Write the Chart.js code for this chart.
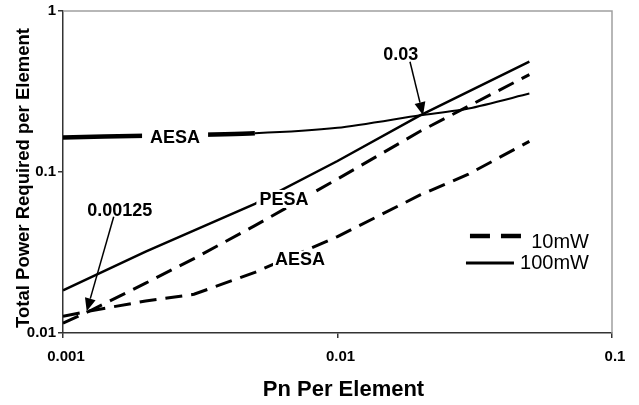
<!DOCTYPE html>
<html><head><meta charset="utf-8">
<script src="https://cdn.jsdelivr.net/npm/chart.js@4.4.1/dist/chart.umd.min.js"></script>
<style>html,body{margin:0;padding:0;background:#fff;overflow:hidden}</style>
</head><body>
<canvas id="c" width="639" height="405"></canvas>
<script>
// ---- data (log-log) ----
const xAesa100 = [0.001, 0.002, 0.005, 0.01, 0.02, 0.03, 0.05];
const yAesa100 = [0.164, 0.168, 0.174, 0.188, 0.225, 0.248, 0.307];
const xPesa100 = [0.001, 0.002, 0.005, 0.01, 0.02, 0.05];
const yPesa100 = [0.0184, 0.032, 0.0634, 0.117, 0.225, 0.484];
const xPesa10 = [0.001, 0.00125, 0.002, 0.003, 0.005, 0.01, 0.02, 0.05];
const yPesa10 = [0.0115, 0.0137, 0.0204, 0.029, 0.0464, 0.0905, 0.179, 0.403];
const xAesa10 = [0.001, 0.00125, 0.002, 0.003, 0.005, 0.01, 0.02, 0.03, 0.05];
const yAesa10 = [0.0127, 0.0137, 0.0158, 0.0174, 0.0238, 0.0397, 0.072, 0.097, 0.155];

const xTicks = [0.001, 0.01, 0.1];
const xTickLabels = ['0.001', '0.01', '0.1'];
const yTicks = [0.01, 0.1, 1];
const yTickLabels = ['0.01', '0.1', '1'];

const xTitle = 'Pn Per Element';
const yTitle = 'Total Power Required per Element';
const legendLabels = ['10mW', '100mW'];

// text notes anchored in data coordinates
const noteTexts = ['AESA', 'PESA', 'AESA', '0.03', '0.00125'];
const noteX = [0.00256, 0.00638, 0.0073, 0.017, 0.00161];
const noteY = [0.164, 0.068, 0.0286, 0.543, 0.0583];
// arrows (from -> tip) in data coordinates
const arrowFromX = [0.01837, 0.00153];
const arrowFromY = [0.484, 0.0527];
const arrowToX = [0.0205, 0.00122];
const arrowToY = [0.225, 0.01367];

const FONT = "'Liberation Sans', Arial, Helvetica, sans-serif";
const pts = (xs, ys) => xs.map((x, i) => ({x: x, y: ys[i]}));

const framePlugin = {
  id: 'frame',
  beforeDatasetsDraw(chart) {
    const {ctx, chartArea: a} = chart;
    ctx.save();
    ctx.strokeStyle = '#a0a0a0';
    ctx.lineWidth = 1.5;
    ctx.beginPath();
    ctx.moveTo(a.left, a.top);
    ctx.lineTo(a.right, a.top);
    ctx.lineTo(a.right, a.bottom);
    ctx.stroke();
    ctx.restore();
  },
  afterDraw(chart) {
    const {ctx, chartArea: a} = chart;
    ctx.save();
    ctx.fillStyle = '#000';
    ctx.textAlign = 'center';
    ctx.textBaseline = 'middle';
    // x axis title
    ctx.font = 'bold 22px ' + FONT;
    ctx.fillText(xTitle, (a.left + a.right) / 2 + 6, a.bottom + 57);
    // y axis title
    ctx.font = 'bold 18.5px ' + FONT;
    ctx.translate(a.left - 39, (a.top + a.bottom) / 2 + 6);
    ctx.rotate(-Math.PI / 2);
    ctx.fillText(yTitle, 0, 0);
    ctx.restore();
  }
};

const notesPlugin = {
  id: 'notes',
  afterDatasetsDraw(chart) {
    const {ctx, chartArea: a} = chart;
    const xs = chart.scales.x, ys = chart.scales.y;
    ctx.save();
    // arrows
    for (let i = 0; i < arrowFromX.length; i++) {
      const x1 = xs.getPixelForValue(arrowFromX[i]), y1 = ys.getPixelForValue(arrowFromY[i]);
      const x2 = xs.getPixelForValue(arrowToX[i]), y2 = ys.getPixelForValue(arrowToY[i]);
      const ang = Math.atan2(y2 - y1, x2 - x1);
      const hl = 13, hw = 5.5;
      const bx = x2 - hl * Math.cos(ang), by = y2 - hl * Math.sin(ang);
      ctx.strokeStyle = '#000';
      ctx.lineWidth = 1.5;
      ctx.beginPath();
      ctx.moveTo(x1, y1);
      ctx.lineTo(bx, by);
      ctx.stroke();
      ctx.fillStyle = '#000';
      ctx.beginPath();
      ctx.moveTo(x2, y2);
      ctx.lineTo(bx + hw * Math.sin(ang), by - hw * Math.cos(ang));
      ctx.lineTo(bx - hw * Math.sin(ang), by + hw * Math.cos(ang));
      ctx.closePath();
      ctx.fill();
    }
    // text notes with white backing
    ctx.font = 'bold 18px ' + FONT;
    ctx.textAlign = 'center';
    ctx.textBaseline = 'middle';
    const padX = [8, 3, 2, 0, 0];
    for (let i = 0; i < noteTexts.length; i++) {
      const px = xs.getPixelForValue(noteX[i]), py = ys.getPixelForValue(noteY[i]);
      const w = ctx.measureText(noteTexts[i]).width;
      if (padX[i] > 0) {
        ctx.fillStyle = '#fff';
        ctx.fillRect(px - w / 2 - padX[i], py - 9, w + 2 * padX[i], 18);
      }
      ctx.fillStyle = '#000';
      ctx.fillText(noteTexts[i], px, py + 1);
    }
    // legend
    const lx = a.left + (a.right - a.left) * 0.734;
    const ly = a.top + (a.bottom - a.top) * 0.699;
    ctx.lineCap = 'butt';
    ctx.strokeStyle = '#000';
    ctx.lineWidth = 4.5;
    ctx.setLineDash([20, 11]);
    ctx.beginPath();
    ctx.moveTo(lx + 4, ly);
    ctx.lineTo(lx + 55, ly);
    ctx.stroke();
    ctx.setLineDash([]);
    ctx.lineWidth = 3;
    ctx.beginPath();
    ctx.moveTo(lx, ly + 27);
    ctx.lineTo(lx + 48, ly + 27);
    ctx.stroke();
    ctx.fillStyle = '#000';
    ctx.font = '20px ' + FONT;
    ctx.textAlign = 'right';
    ctx.fillText(legendLabels[0], lx + 123, ly + 6);
    ctx.fillText(legendLabels[1], lx + 123, ly + 27);
    ctx.restore();
  }
};

const axisCommon = {
  type: 'logarithmic',
  grid: {display: true, drawOnChartArea: false, drawTicks: true, tickLength: 5, color: '#333', lineWidth: 1.5},
  border: {display: true, color: '#333', width: 1.5},
};

new Chart(document.getElementById('c'), {
  type: 'scatter',
  data: {
    datasets: [
      {label: 'AESA 100mW', data: pts(xAesa100, yAesa100), showLine: true, borderColor: '#000', borderWidth: 2,
       pointRadius: 0, tension: 0.25,
       segment: {borderWidth: c => (c.p1.parsed.x <= 0.005 ? 4.5 : 2)}},
      {label: 'PESA 100mW', data: pts(xPesa100, yPesa100), showLine: true, borderColor: '#000', borderWidth: 2.5,
       pointRadius: 0, tension: 0},
      {label: 'PESA 10mW', data: pts(xPesa10, yPesa10), showLine: true, borderColor: '#000', borderWidth: 3,
       borderDash: [17, 9], pointRadius: 0, tension: 0},
      {label: 'AESA 10mW', data: pts(xAesa10, yAesa10), showLine: true, borderColor: '#000', borderWidth: 3,
       borderDash: [17, 9], pointRadius: 0, tension: 0}
    ]
  },
  options: {
    responsive: false,
    animation: false,
    devicePixelRatio: 1,
    layout: {padding: {left: 0, right: 27, top: 9, bottom: 0}},
    plugins: {legend: {display: false}, tooltip: {enabled: false}},
    scales: {
      x: Object.assign({}, axisCommon, {
        min: 0.001, max: 0.1,
        afterBuildTicks: s => { s.ticks = xTicks.map(v => ({value: v})); },
        afterFit: s => { s.height = 72; },
        ticks: {color: '#000', padding: 10, maxRotation: 0, autoSkip: false, labelOffset: 3,
                font: {family: FONT, size: 15, weight: 'bold'},
                callback: (v, i) => xTickLabels[i]},
        title: {display: false}
      }),
      y: Object.assign({}, axisCommon, {
        min: 0.01, max: 1,
        afterBuildTicks: s => { s.ticks = yTicks.map(v => ({value: v})); },
        afterFit: s => { s.width = 63; },
        ticks: {color: '#000', padding: 2, autoSkip: false,
                font: {family: FONT, size: 15, weight: 'bold'},
                callback: (v, i) => yTickLabels[i]},
        title: {display: false}
      })
    }
  },
  plugins: [framePlugin, notesPlugin]
});
</script>
</body></html>
